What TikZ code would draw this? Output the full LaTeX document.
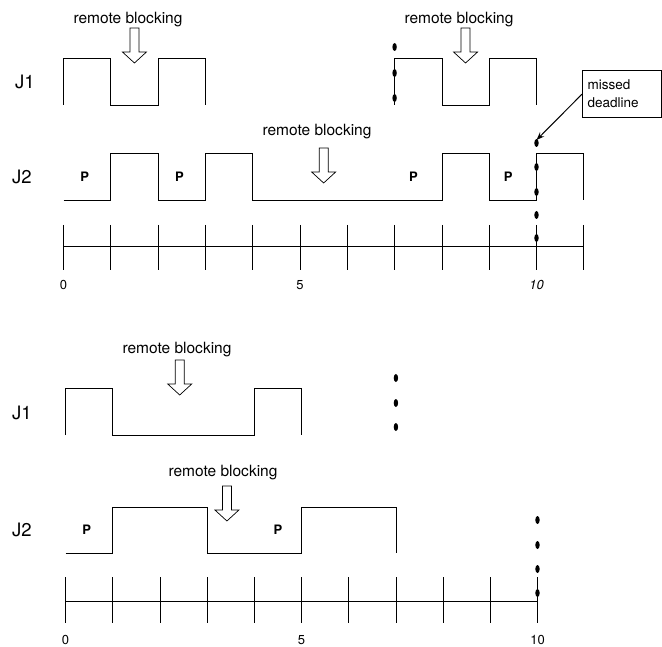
\documentclass[tikz,border=0pt]{standalone}
\usepackage{fontspec}
\setmainfont{TeX Gyre Heros}
\usetikzlibrary{arrows.meta}
\tikzset{
  sig/.style={line width=0.8pt, line join=miter},
  axis/.style={line width=0.8pt},
  rbtext/.style={font=\fontsize{15.5}{18}\selectfont, inner sep=0pt},
  jname/.style={font=\fontsize{18.5}{22}\selectfont, inner sep=0pt},
  pmark/.style={font=\bfseries\fontsize{13}{15}\selectfont, inner sep=0pt},
  num/.style={font=\fontsize{13}{16}\selectfont, inner sep=0pt},
  callout/.style={draw, line width=1.3pt, anchor=north west, align=left,
    text width=69pt, inner xsep=5pt, inner ysep=4pt, minimum height=47pt,
    font=\fontsize{13.5}{18}\selectfont},
  rbarrow/.pic={\draw[x=1pt, y=-1pt, line width=0.7pt, fill=white, line join=miter]
    (-4.5,0) -- (-4.5,24) -- (-12,24) -- (0,35) -- (12,24) -- (4.5,24) -- (4.5,0) -- cycle;},
}
\newcommand{\tdot}[1]{\fill #1 ellipse [x radius=2.2pt, y radius=4pt];}
\begin{document}
\begin{tikzpicture}[x=1pt, y=-1pt]
\useasboundingbox (0,0) rectangle (662,647);

% ---------------- upper schedule ----------------
\node[jname] (J1a) at (25,82) {J1};
\node[jname] (J2a) at (22,177) {J2};

\begin{scope}[x=47.3pt, y=-1pt, xshift=63.5pt]
  % J1
  \draw[sig] (0,105) -- (0,58) -- (1,58) -- (1,105) -- (2,105) -- (2,58) -- (3,58) -- (3,105);
  \draw[sig] (7,105) -- (7,58) -- (8,58) -- (8,105) -- (9,105) -- (9,58) -- (10,58) -- (10,105);
  % J2
  \draw[sig] (0,200) -- (1,200) -- (1,153) -- (2,153) -- (2,200) -- (3,200) -- (3,153)
    -- (4,153) -- (4,200) -- (8,200) -- (8,153) -- (9,153) -- (9,200) -- (10,200)
    -- (10,153) -- (11,153) -- (11,200);
  \node[pmark] (pa1) at (0.45,177) {P};
  \node[pmark] (pa2) at (2.45,177) {P};
  \node[pmark] (pa3) at (7.4,177) {P};
  \node[pmark] (pa4) at (9.4,177) {P};
  % time axis
  \draw[axis] (0,246) -- (11,246);
  \foreach \t in {0,...,11} {\draw[axis] (\t,225) -- (\t,270);}
  \node[num] (a0) at (0,285) {0};
  \node[num] (a5) at (5,285) {5};
  \node[num, font=\itshape\fontsize{13}{16}\selectfont] (a10) at (10,285) {10};
  % blocking arrows
  \pic at (1.5,28) {rbarrow};
  \pic at (8.5,28) {rbarrow};
  \pic at (5.5,148) {rbarrow};
  % period boundaries
  \foreach \y in {47,73,98} {\tdot{(7,\y)}}
  \foreach \y in {143,167,192,215,238} {\tdot{(10,\y)}}
  \coordinate (dl) at (10,140);
\end{scope}

\node[rbtext] (rb1) at (128,20) {remote blocking};
\node[rbtext] (rb2) at (459,20) {remote blocking};
\node[rbtext] (rb3) at (317,132) {remote blocking};

\node[callout] (miss) at (582,70) {missed\\deadline};
\draw[line width=1pt, -{Stealth[length=8pt, width=6pt]}] (miss.west) -- (dl);

% ---------------- lower schedule ----------------
\node[jname] (J1b) at (22,413) {J1};
\node[jname] (J2b) at (22,530) {J2};

\begin{scope}[x=47.2pt, y=-1pt, xshift=65.5pt]
  % J1
  \draw[sig] (0,435) -- (0,388) -- (1,388) -- (1,435) -- (4,435) -- (4,388) -- (5,388) -- (5,435);
  % J2
  \draw[sig] (0,553) -- (1,553) -- (1,507) -- (3,507) -- (3,553) -- (5,553) -- (5,507)
    -- (7,507) -- (7,553);
  \node[pmark] (pb1) at (0.45,530) {P};
  \node[pmark] (pb2) at (4.5,530) {P};
  % time axis
  \draw[axis] (0,601) -- (10,601);
  \foreach \t in {0,...,10} {\draw[axis] (\t,577) -- (\t,623);}
  \node[num] (b0) at (0,640) {0};
  \node[num] (b5) at (5,640) {5};
  \node[num] (b10) at (10,640) {10};
  % blocking arrows
  \pic at (2.42,360) {rbarrow};
  \pic at (3.42,486) {rbarrow};
  % period boundaries
  \foreach \y in {378,403,427} {\tdot{(7,\y)}}
  \foreach \y in {520,545,569,593} {\tdot{(10,\y)}}
\end{scope}

\node[rbtext] (rb4) at (177,350) {remote blocking};
\node[rbtext] (rb5) at (223,473) {remote blocking};
\end{tikzpicture}
\end{document}
